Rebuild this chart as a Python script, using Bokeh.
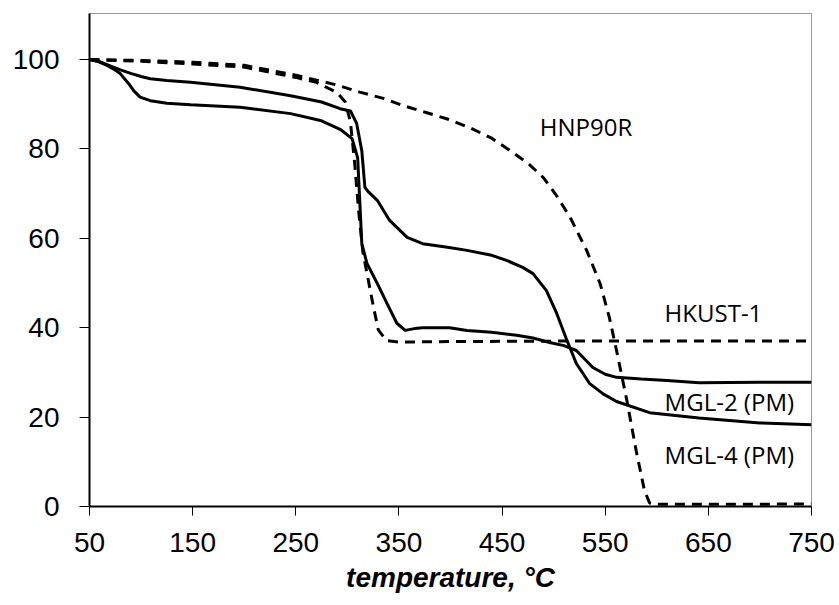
from bokeh.plotting import figure
from bokeh.models import Range1d, FixedTicker, Label
from bokeh.embed import file_html
from bokeh.resources import INLINE

# ---- data ----
hnp_t = [50, 100, 150, 200, 250, 290, 312, 335, 354, 377, 397, 420, 440, 458, 475, 490,
         503, 516, 532, 545, 554, 561, 571, 580, 588, 593, 600, 650, 700, 750]
hnp_w = [100, 99.8, 99.4, 98.7, 96.5, 94.3, 92.7, 91.3, 89.7, 88.1, 86.7, 84.6, 82.4, 79.6, 76.8, 73.6,
         69.5, 64.7, 57.3, 49.9, 42.3, 34.9, 23.7, 12.5, 3.6, 0.8, 0.5, 0.5, 0.5, 0.6]

hkust_t = [50, 100, 150, 200, 250, 270, 290, 298, 303, 307, 311, 315, 320, 325, 330, 338,
           350, 400, 500, 600, 750]
hkust_w = [100, 99.6, 99.0, 98.3, 96.0, 94.9, 92.6, 90.5, 86, 77, 66, 57, 51, 45, 39.5, 37.1,
           36.8, 36.9, 37, 37, 37]

mgl_a_t = [50, 60, 70, 80, 90, 100, 109, 125, 148, 196, 245, 275, 293, 303, 309, 314, 317, 320, 329,
           341, 358, 373, 397, 416, 440, 455, 470, 480, 493, 503, 513, 522, 535, 548, 561, 593, 641,
           700, 750]
mgl_a_w = [100, 99.5, 98.6, 97.7, 96.9, 96.2, 95.7, 95.3, 94.9, 93.8, 91.9, 90.5, 89, 88.5, 85.7, 79.6,
           71.4, 70.5, 68.5, 64, 60.2, 58.8, 58, 57.3, 56.2, 55, 53.5, 52.1, 48.3, 43.2, 37.1, 32, 27.5,
           25.2, 23.5, 21, 19.8, 18.7, 18.3]

mgl_b_t = [50, 58, 67, 74, 80, 88, 93, 99, 109, 125, 148, 196, 245, 275, 293, 304.6, 310, 312, 314,
           319, 329, 338.5, 348, 356, 365, 373, 399, 416, 440, 464, 480, 496, 510, 522, 538, 550, 561,
           585, 610, 641, 700, 750]
mgl_b_w = [100, 99.6, 98.7, 97.8, 96.8, 94.6, 93, 91.6, 90.8, 90.2, 89.9, 89.3, 87.9, 86.3, 84.4, 82.3,
           78, 68.5, 58.8, 54.4, 49.9, 45.4, 41, 39.4, 39.8, 40, 40, 39.4, 39, 38.3, 37.7, 36.7, 36, 34.9,
           31.1, 29.6, 28.9, 28.5, 28.2, 27.7, 27.8, 27.8]

x_ticks = [50, 150, 250, 350, 450, 550, 650, 750]
y_ticks = [0, 20, 40, 60, 80, 100]

series_labels = ["HNP90R", "HKUST-1", "MGL-2 (PM)", "MGL-4 (PM)"]

# ---- figure ----
p = figure(width=836, height=600, output_backend="svg", toolbar_location=None,
           x_range=Range1d(50, 750), y_range=Range1d(0, 110.3),
           min_border_left=89, min_border_right=25, min_border_top=13, min_border_bottom=94)

p.xgrid.visible = False
p.ygrid.visible = False
p.outline_line_color = "#9a9a9a"
p.outline_line_width = 1
p.background_fill_color = "white"
p.border_fill_color = "white"

tick_font = "Liberation Sans"
for ax in (p.xaxis[0], p.yaxis[0]):
    ax.axis_line_color = "black"
    ax.axis_line_width = 2
    ax.major_tick_line_color = "black"
    ax.major_tick_line_width = 1
    ax.major_tick_in = 0
    ax.minor_tick_line_color = None
    ax.major_label_text_font = tick_font
    ax.major_label_text_font_size = "28px"
    ax.major_label_text_color = "black"

p.xaxis.ticker = FixedTicker(ticks=x_ticks)
p.yaxis.ticker = FixedTicker(ticks=y_ticks)
p.xaxis.major_tick_out = 9
p.yaxis.major_tick_out = 10
p.xaxis.major_label_standoff = 17
p.yaxis.major_label_standoff = 20

p.xaxis.axis_label = "temperature, °C"
p.xaxis.axis_label_text_font = tick_font
p.xaxis.axis_label_text_font_style = "bold italic"
p.xaxis.axis_label_text_font_size = "28px"
p.xaxis.axis_label_text_color = "black"
p.xaxis.axis_label_standoff = 7

lw = 3
p.line(hnp_t, hnp_w, line_color="black", line_width=lw, line_dash="10 7")
p.line(hkust_t, hkust_w, line_color="black", line_width=lw, line_dash="10 7")
p.line(mgl_a_t, mgl_a_w, line_color="black", line_width=lw)
p.line(mgl_b_t, mgl_b_w, line_color="black", line_width=lw)

label_pos = [(486.6, 85.1), (607.6, 43.5), (607.6, 23.5), (607.6, 11.6)]
for txt, (lx, ly) in zip(series_labels, label_pos):
    p.add_layout(Label(x=lx, y=ly, text=txt, text_font="Open Sans", text_font_size="24px",
                       text_align="left", text_baseline="middle", text_color="black"))

open("out.html", "w").write(file_html(p, INLINE))
